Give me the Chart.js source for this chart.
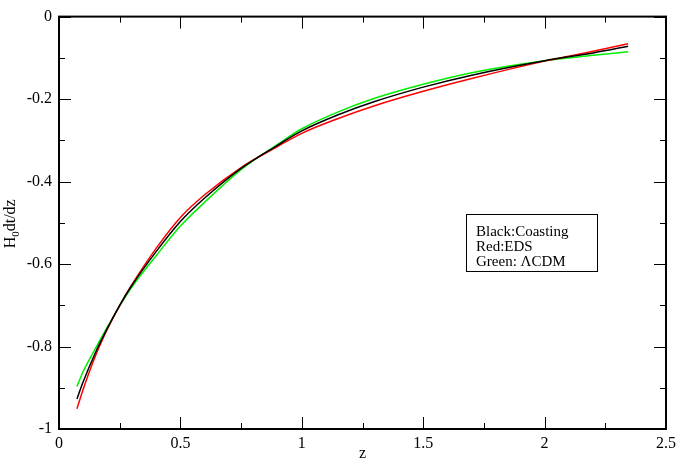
<!DOCTYPE html>
<html>
<head>
<meta charset="utf-8">
<script src="https://cdn.jsdelivr.net/npm/chart.js@4.4.1/dist/chart.umd.min.js"></script>
<style>
  html, body { margin: 0; padding: 0; background: #fff; }
  #wrap { width: 681px; height: 463px; position: relative; }
</style>
</head>
<body>
<div id="wrap"><canvas id="chart-dtdz"></canvas></div>
<script>
// redshift samples
var zVals = [0.074, 0.1, 0.15, 0.2, 0.25, 0.3, 0.4, 0.5, 0.6, 0.75, 0.9, 1.0, 1.15, 1.3, 1.5, 1.7, 2.0, 2.2, 2.344];
// H0 dt/dz for each model
var coasting = [-0.927, -0.885, -0.815, -0.755, -0.70, -0.652, -0.57, -0.497, -0.44, -0.368, -0.312, -0.277, -0.238, -0.206, -0.171, -0.142, -0.107, -0.088, -0.072];
var eds = [-0.951, -0.903, -0.823, -0.757, -0.70, -0.65, -0.562, -0.487, -0.432, -0.366, -0.315, -0.283, -0.247, -0.216, -0.181, -0.15, -0.108, -0.084, -0.066];
var lcdm = [-0.897, -0.86, -0.805, -0.752, -0.702, -0.656, -0.58, -0.508, -0.45, -0.371, -0.31, -0.272, -0.231, -0.198, -0.164, -0.136, -0.107, -0.094, -0.085];

var xTickVals = [0, 0.5, 1, 1.5, 2, 2.5];
var xTickLabels = ["0", "0.5", "1", "1.5", "2", "2.5"];
var yTickVals = [0, -0.2, -0.4, -0.6, -0.8, -1];
var yTickLabels = ["0", "-0.2", "-0.4", "-0.6", "-0.8", "-1"];
var legendLines = ["Black:Coasting", "Red:EDS", "Green: \u039BCDM"];

function pts(vals) {
  return zVals.map(function (z, i) { return { x: z, y: vals[i] }; });
}

function labelFor(vals, labels, v) {
  for (var i = 0; i < vals.length; i++) {
    if (Math.abs(vals[i] - v) < 1e-6) return labels[i];
  }
  return "";
}

var serif = "'Liberation Serif', 'DejaVu Serif', serif";

// frame, inward ticks on all sides, y title and the text box
var xmgrDecor = {
  id: "xmgrDecor",
  afterDraw: function (chart) {
    var ctx = chart.ctx;
    var a = chart.chartArea;
    var xs = chart.scales.x;
    var ys = chart.scales.y;
    ctx.save();
    ctx.strokeStyle = "#000";
    ctx.lineWidth = 1;
    var v, p, len;
    for (v = 0; v <= 2.5001; v += 0.25) {
      p = Math.round(xs.getPixelForValue(v)) + 0.5;
      len = Math.abs(v / 0.5 - Math.round(v / 0.5)) < 1e-6 ? 12 : 6;
      ctx.beginPath();
      ctx.moveTo(p, a.bottom); ctx.lineTo(p, a.bottom - len);
      ctx.moveTo(p, a.top); ctx.lineTo(p, a.top + len);
      ctx.stroke();
    }
    for (v = 0; v >= -1.0001; v -= 0.1) {
      p = Math.round(ys.getPixelForValue(v)) + 0.5;
      len = Math.abs(v / 0.2 - Math.round(v / 0.2)) < 1e-6 ? 12 : 6;
      ctx.beginPath();
      ctx.moveTo(a.left, p); ctx.lineTo(a.left + len, p);
      ctx.moveTo(a.right, p); ctx.lineTo(a.right - len, p);
      ctx.stroke();
    }
    ctx.lineWidth = 2;
    ctx.strokeRect(a.left, a.top, a.right - a.left, a.bottom - a.top);

    // y axis title with subscript
    ctx.fillStyle = "#000";
    ctx.translate(15, (a.top + a.bottom) / 2 + 1);
    ctx.rotate(-Math.PI / 2);
    ctx.textBaseline = "alphabetic";
    ctx.font = "16px " + serif;
    var w1 = ctx.measureText("H").width;
    var w3 = ctx.measureText("dt/dz").width;
    ctx.font = "11px " + serif;
    var w2 = ctx.measureText("0").width;
    var x0 = -(w1 + w2 + w3) / 2;
    ctx.font = "16px " + serif;
    ctx.fillText("H", x0, 0);
    ctx.font = "11px " + serif;
    ctx.fillText("0", x0 + w1, 4);
    ctx.font = "16px " + serif;
    ctx.fillText("dt/dz", x0 + w1 + w2, 0);
    ctx.setTransform(1, 0, 0, 1, 0, 0);

    // text box
    ctx.lineWidth = 1;
    ctx.strokeRect(466.5, 214.5, 131, 57);
    ctx.font = "15px " + serif;
    ctx.textBaseline = "alphabetic";
    for (var i = 0; i < legendLines.length; i++) {
      ctx.fillText(legendLines[i], 476, 236 + i * 15);
    }
    ctx.restore();
  }
};

var ctx_dtdz = document.getElementById("chart-dtdz").getContext("2d");

new Chart(ctx_dtdz, {
  type: "line",
  data: {
    datasets: [{
      label: "Coasting",
      data: pts(coasting),
      borderColor: "#000000",
      borderWidth: 1.5,
      pointRadius: 0,
      cubicInterpolationMode: "monotone"
    }, {
      label: "EDS",
      data: pts(eds),
      borderColor: "#ff0000",
      borderWidth: 1.5,
      pointRadius: 0,
      cubicInterpolationMode: "monotone"
    }, {
      label: "LCDM",
      data: pts(lcdm),
      borderColor: "#00ee00",
      borderWidth: 1.5,
      pointRadius: 0,
      cubicInterpolationMode: "monotone"
    }]
  },
  options: {
    responsive: true,
    maintainAspectRatio: false,
    animation: false,
    layout: {
      padding: { top: 7, right: 13, left: 0, bottom: 0 }
    },
    plugins: {
      legend: { display: false },
      tooltip: { enabled: false }
    },
    scales: {
      x: {
        type: "linear",
        min: 0,
        max: 2.5,
        afterFit: function (scale) { scale.height = 34; },
        afterBuildTicks: function (scale) {
          scale.ticks = xTickVals.map(function (v) { return { value: v }; });
        },
        grid: { display: false, drawTicks: false },
        border: { display: false },
        ticks: {
          padding: 5,
          color: "#000",
          font: { size: 16, family: serif },
          maxRotation: 0,
          callback: function (v) { return labelFor(xTickVals, xTickLabels, v); }
        },
        title: {
          display: true,
          text: "z",
          color: "#000",
          padding: { top: 0, bottom: 0 },
          font: { size: 16, family: serif }
        }
      },
      y: {
        type: "linear",
        min: -1,
        max: 0,
        afterFit: function (scale) { scale.width = 59; },
        afterBuildTicks: function (scale) {
          scale.ticks = yTickVals.map(function (v) { return { value: v }; });
        },
        grid: { display: false, drawTicks: false },
        border: { display: false },
        ticks: {
          padding: 7,
          color: "#000",
          font: { size: 16, family: serif },
          callback: function (v) { return labelFor(yTickVals, yTickLabels, v); }
        }
      }
    }
  },
  plugins: [xmgrDecor]
});
</script>
</body>
</html>
